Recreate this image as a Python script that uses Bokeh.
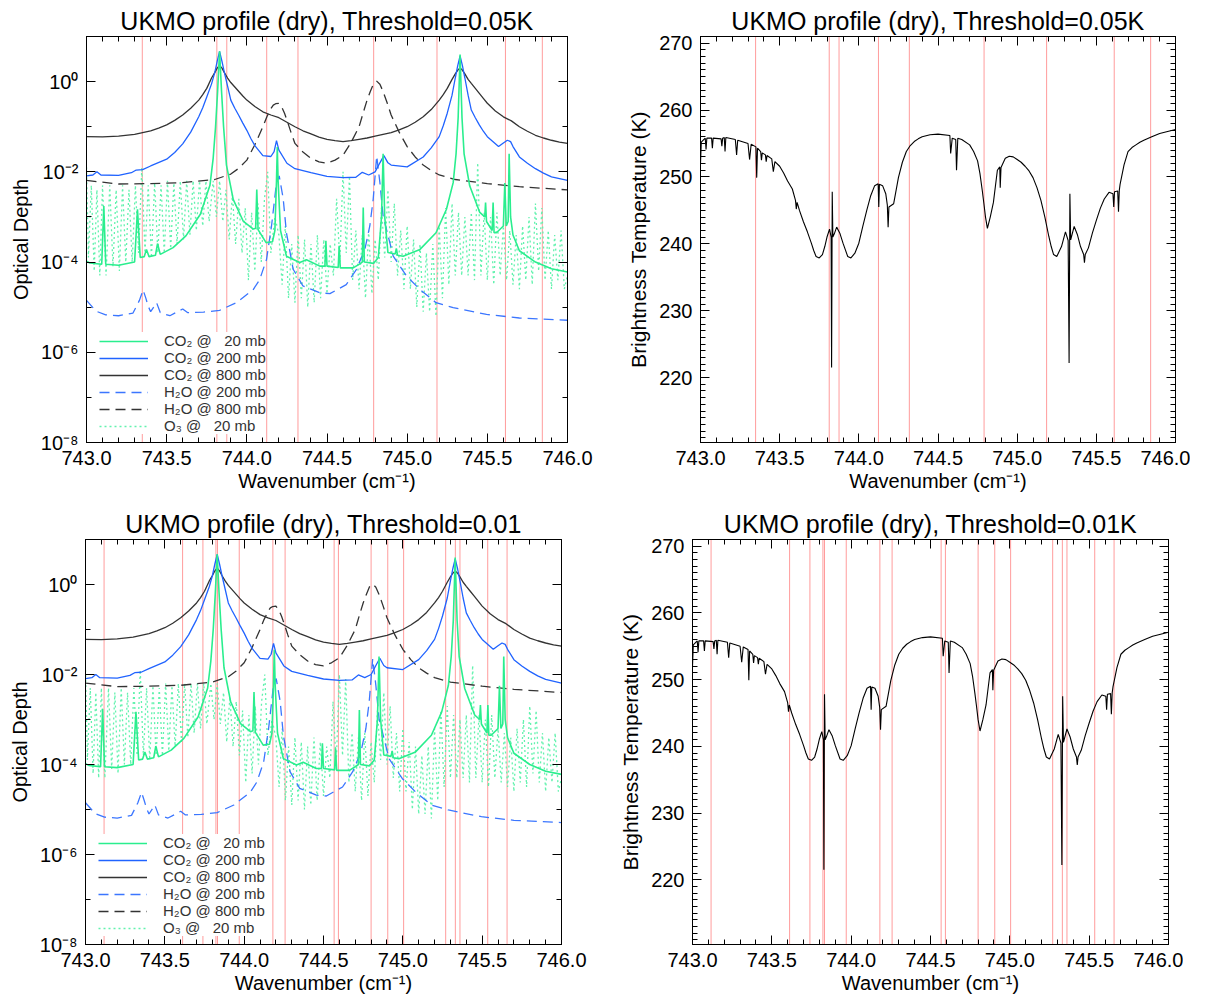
import numpy as np
from bokeh.plotting import figure
from bokeh.models import (Range1d, Span, Legend, LegendItem, FixedTicker, CustomJSTickFormatter,
                          SingleIntervalTicker, LinearAxis, LogAxis, NumeralTickFormatter)
from bokeh.layouts import column, row
from bokeh.embed import file_html
from bokeh.resources import INLINE

FONT = "Liberation Sans"
RED = "#ff9c9c"

# ---------------- data (optical depths given as log10) ----------------
co2_800_x = [743.00, 743.10, 743.20, 743.30, 743.35, 743.40, 743.45, 743.50, 743.55, 743.60,
             743.65, 743.70, 743.725, 743.75, 743.78, 743.80, 743.815, 743.83, 743.845, 743.86,
             743.88, 743.90, 743.925, 743.95, 743.975, 744.00, 744.05, 744.10, 744.15, 744.20,
             744.25, 744.30, 744.35, 744.40, 744.45, 744.50, 744.55, 744.60, 744.65, 744.70,
             744.75, 744.80, 744.85, 744.90, 744.95, 745.00, 745.05, 745.10, 745.15, 745.20,
             745.225, 745.25, 745.28, 745.30, 745.315, 745.33, 745.345, 745.36, 745.38, 745.40,
             745.425, 745.45, 745.475, 745.50, 745.55, 745.60, 745.65, 745.70, 745.75, 745.80,
             745.85, 745.90, 745.95, 746.00]
co2_800_log = [-1.22, -1.225, -1.21, -1.17, -1.13, -1.09, -1.03, -0.96, -0.86, -0.74,
               -0.59, -0.41, -0.29, -0.15, 0.08, 0.20, 0.30, 0.36, 0.30, 0.20,
               0.08, -0.02, -0.12, -0.22, -0.32, -0.41, -0.55, -0.67, -0.74, -0.80,
               -0.90, -1.00, -1.09, -1.16, -1.23, -1.28, -1.31, -1.33, -1.31, -1.28,
               -1.25, -1.21, -1.17, -1.13, -1.07, -1.00, -0.90, -0.78, -0.62, -0.41,
               -0.29, -0.15, 0.05, 0.17, 0.25, 0.30, 0.25, 0.17, 0.05, -0.04,
               -0.15, -0.26, -0.37, -0.48, -0.65, -0.78, -0.87, -1.00, -1.10, -1.19,
               -1.25, -1.30, -1.34, -1.37]

co2_200_x = [743.00, 743.04, 743.065, 743.09, 743.20, 743.28, 743.31, 743.35, 743.40, 743.50,
             743.55, 743.60, 743.65, 743.70, 743.725, 743.75, 743.78, 743.80, 743.815, 743.83,
             743.845, 743.86, 743.88, 743.90, 743.925, 743.95, 743.975, 744.00, 744.025, 744.05,
             744.10, 744.15, 744.17, 744.185, 744.20, 744.25, 744.30, 744.40, 744.50, 744.60,
             744.68, 744.72, 744.76, 744.80, 744.83, 744.855, 744.88, 744.90, 745.00, 745.10,
             745.15, 745.20, 745.225, 745.25, 745.28, 745.30, 745.315, 745.33, 745.345, 745.36,
             745.38, 745.40, 745.425, 745.45, 745.475, 745.50, 745.57, 745.60, 745.625, 745.645,
             745.66, 745.70, 745.75, 745.80, 745.85, 745.90, 746.00]
co2_200_log = [-2.09, -2.07, -2.00, -2.07, -2.08, -2.02, -1.96, -1.95, -1.87, -1.72,
               -1.57, -1.38, -1.12, -0.78, -0.58, -0.34, -0.05, 0.20, 0.45, 0.67,
               0.45, 0.20, -0.10, -0.41, -0.59, -0.75, -0.92, -1.08, -1.26, -1.42,
               -1.64, -1.66, -1.55, -1.31, -1.52, -1.81, -1.93, -2.02, -2.10, -2.13,
               -2.12, -2.01, -2.07, -2.00, -1.80, -1.64, -1.80, -1.85, -1.89, -1.67,
               -1.47, -1.22, -0.98, -0.70, -0.30, 0.08, 0.35, 0.57, 0.35, 0.08,
               -0.30, -0.63, -0.80, -0.96, -1.10, -1.22, -1.44, -1.36, -1.30, -1.33,
               -1.44, -1.67, -1.81, -1.93, -2.03, -2.11, -2.19]

co2_20_x = [743.000, 743.020, 743.095, 743.108, 743.120, 743.200, 743.300, 743.318, 743.335, 743.360,
            743.374, 743.390, 743.430, 743.443, 743.460, 743.540, 743.620, 743.680, 743.710, 743.770,
            743.790, 743.805, 743.818, 743.830, 743.842, 743.855, 743.873, 743.915, 743.977, 744.040,
            744.055, 744.062, 744.070, 744.120, 744.160, 744.175, 744.185, 744.190, 744.195, 744.210,
            744.247, 744.330, 744.372, 744.455, 744.487, 744.493, 744.500, 744.570, 744.576, 744.583,
            744.663, 744.700, 744.720, 744.726, 744.733, 744.790, 744.820, 744.840, 744.850, 744.860,
            744.880, 744.925, 744.933, 744.940, 744.975, 745.080, 745.180, 745.245, 745.287, 745.305,
            745.318, 745.330, 745.342, 745.355, 745.390, 745.453, 745.484, 745.489, 745.495, 745.530,
            745.536, 745.542, 745.557, 745.600, 745.609, 745.618, 745.630, 745.636, 745.645, 745.660,
            745.700, 745.800, 745.900, 746.000]
co2_20_log = [-3.98, -4.02, -4.05, -2.76, -4.05, -4.07, -4.00, -2.83, -3.90, -3.88,
              -3.72, -3.88, -3.85, -3.59, -3.83, -3.68, -3.42, -3.10, -2.94, -2.30,
              -1.70, -1.00, -0.20, 0.67, -0.20, -1.00, -1.85, -2.61, -3.09, -3.27,
              -3.25, -2.39, -3.28, -3.57, -3.55, -3.30, -2.20, -1.45, -2.20, -3.30,
              -3.87, -4.01, -3.95, -4.09, -4.09, -3.53, -4.09, -4.12, -3.64, -4.13,
              -4.13, -4.05, -4.00, -2.79, -4.00, -4.03, -3.90, -3.00, -1.60, -3.00,
              -3.79, -3.82, -3.70, -3.85, -3.87, -3.72, -3.35, -2.83, -2.24, -1.60,
              -0.80, 0.60, -0.80, -1.60, -2.31, -2.90, -3.00, -2.68, -3.10, -3.30,
              -2.68, -3.35, -3.35, -3.20, -2.25, -3.20, -3.10, -1.60, -3.00, -3.40,
              -3.75, -4.00, -4.15, -4.22]

h2o_200_x = [743.00, 743.06, 743.12, 743.20, 743.29, 743.33, 743.353, 743.37, 743.385, 743.40,
             743.437, 743.46, 743.52, 743.60, 743.63, 743.73, 743.83, 743.935, 744.04, 744.08,
             744.123, 744.154, 744.185, 744.202, 744.227, 744.247, 744.289, 744.35, 744.455, 744.518,
             744.62, 744.684, 744.736, 744.767, 744.788, 744.81, 744.83, 744.85, 744.913, 744.996,
             745.08, 745.18, 745.287, 745.495, 745.70, 746.00]
h2o_200_log = [-4.85, -5.09, -5.17, -5.19, -5.13, -4.85, -4.62, -4.80, -4.98, -5.10,
               -4.90, -5.12, -5.19, -5.04, -5.12, -5.11, -5.07, -4.90, -4.61, -4.39,
               -3.94, -3.20, -2.24, -2.09, -2.60, -3.35, -4.16, -4.53, -4.68, -4.70,
               -4.50, -4.16, -3.72, -3.20, -2.61, -1.65, -2.24, -2.98, -3.87, -4.31,
               -4.61, -4.90, -5.01, -5.16, -5.24, -5.29]

h2o_800_x = [743.00, 743.20, 743.40, 743.60, 743.80, 743.90, 743.95, 744.00, 744.05, 744.10,
             744.125, 744.15, 744.165, 744.18, 744.20, 744.22, 744.235, 744.25, 744.275, 744.30,
             744.35, 744.40, 744.45, 744.50, 744.55, 744.60, 744.65, 744.70, 744.725, 744.75,
             744.77, 744.79, 744.81, 744.83, 744.85, 744.875, 744.90, 744.95, 745.00, 745.05,
             745.10, 745.15, 745.20, 745.30, 745.50, 745.70, 746.00]
h2o_800_log = [-2.19, -2.27, -2.26, -2.24, -2.17, -2.05, -1.92, -1.74, -1.40, -1.00,
               -0.78, -0.60, -0.52, -0.49, -0.48, -0.58, -0.70, -0.85, -1.12, -1.37,
               -1.56, -1.70, -1.78, -1.81, -1.74, -1.63, -1.35, -1.00, -0.70, -0.41,
               -0.22, -0.05, 0.01, -0.06, -0.22, -0.47, -0.74, -1.12, -1.44, -1.67,
               -1.85, -1.97, -2.07, -2.17, -2.26, -2.33, -2.40]

o3_x = [743.000, 743.012, 743.030, 743.048, 743.065, 743.083, 743.100, 743.122, 743.145, 743.165,
        743.185, 743.205, 743.225, 743.245, 743.265, 743.285, 743.305, 743.325, 743.345, 743.365,
        743.385, 743.405, 743.425, 743.445, 743.465, 743.485, 743.505, 743.525, 743.545, 743.565,
        743.585, 743.605, 743.625, 743.645, 743.665, 743.685, 743.705, 743.725, 743.745, 743.765,
        743.790, 743.810, 743.830, 743.850, 743.870, 743.890, 743.910, 743.930, 743.950, 743.970,
        743.990, 744.010, 744.030, 744.050, 744.070, 744.090, 744.110, 744.130, 744.150, 744.175,
        744.200, 744.220, 744.240, 744.260, 744.280, 744.300, 744.320, 744.340, 744.360, 744.380,
        744.400, 744.420, 744.440, 744.460, 744.480, 744.500, 744.520, 744.540, 744.560, 744.580,
        744.600, 744.620, 744.640, 744.660, 744.680, 744.700, 744.720, 744.740, 744.760, 744.780,
        744.800, 744.820, 744.840, 744.860, 744.880, 744.900, 744.920, 744.940, 744.960, 744.980,
        745.000, 745.020, 745.040, 745.060, 745.080, 745.100, 745.120, 745.140, 745.160, 745.180,
        745.200, 745.220, 745.240, 745.260, 745.280, 745.300, 745.320, 745.340, 745.360, 745.380,
        745.400, 745.420, 745.440, 745.460, 745.480, 745.500, 745.520, 745.540, 745.560, 745.580,
        745.600, 745.620, 745.640, 745.660, 745.680, 745.700, 745.720, 745.740, 745.760, 745.780,
        745.800, 745.820, 745.840, 745.860, 745.880, 745.900, 745.920, 745.940, 745.960, 745.980,
        746.000]
o3_log = [-1.9, -3.9, -2.3, -4.2, -2.4, -4.3, -2.3, -4.3, -2.3, -4.1,
          -2.4, -4.2, -2.3, -4.0, -2.4, -4.0, -2.3, -3.8, -1.9, -3.8,
          -2.3, -3.9, -2.25, -3.8, -2.3, -3.8, -2.2, -3.7, -2.25, -3.6,
          -2.2, -3.5, -2.2, -3.4, -2.2, -3.3, -2.2, -3.2, -2.2, -3.1,
          -2.2, -3.0, -2.2, -3.1, -2.4, -3.5, -2.5, -3.6, -2.6, -3.8,
          -2.8, -4.4, -2.9, -4.2, -2.7, -4.0, -2.6, -2.0, -3.8, -3.0,
          -3.4, -4.5, -3.2, -4.8, -3.6, -4.9, -3.4, -4.8, -3.5, -5.0,
          -3.6, -4.9, -3.4, -4.8, -3.5, -4.7, -3.6, -4.3, -2.6, -4.0,
          -2.0, -3.8, -2.1, -4.4, -3.3, -4.6, -3.4, -4.8, -3.3, -4.7,
          -3.5, -4.4, -2.8, -3.9, -2.4, -4.0, -2.7, -4.3, -3.3, -4.6,
          -3.2, -4.6, -3.5, -5.0, -3.6, -5.1, -3.8, -5.1, -3.6, -5.2,
          -3.2, -4.8, -2.8, -4.5, -2.7, -4.3, -2.9, -4.3, -3.0, -4.3,
          -2.9, -4.4, -1.8, -4.3, -2.9, -4.4, -3.0, -4.5, -2.9, -4.3,
          -3.2, -4.4, -3.3, -4.5, -3.4, -4.6, -3.2, -4.4, -3.0, -4.5,
          -2.7, -4.2, -2.8, -4.4, -3.3, -4.6, -3.4, -4.4, -3.3, -4.6,
          -4.3]

bt_x = [743.000, 743.005, 743.030, 743.035, 743.040, 743.070, 743.075, 743.080, 743.130, 743.135,
        743.140, 743.150, 743.155, 743.160, 743.220, 743.228, 743.235, 743.300, 743.310, 743.320,
        743.350, 743.355, 743.360, 743.380, 743.385, 743.390, 743.410, 743.415, 743.420, 743.450,
        743.460, 743.470, 743.500, 743.525, 743.550, 743.580, 743.600, 743.605, 743.610, 743.625,
        743.650, 743.675, 743.700, 743.715, 743.730, 743.750, 743.770, 743.785, 743.800, 743.815,
        743.825, 743.828, 743.832, 743.836, 743.845, 743.860, 743.880, 743.900, 743.930, 743.950,
        743.975, 744.000, 744.025, 744.050, 744.075, 744.100, 744.122, 744.126, 744.130, 744.150,
        744.170, 744.180, 744.185, 744.190, 744.220, 744.250, 744.275, 744.300, 744.325, 744.350,
        744.375, 744.400, 744.450, 744.500, 744.575, 744.580, 744.590, 744.612, 744.617, 744.625,
        744.650, 744.700, 744.725, 744.750, 744.765, 744.780, 744.790, 744.800, 744.812, 744.830,
        744.850, 744.875, 744.890, 744.893, 744.898, 744.925, 744.950, 744.975, 745.000, 745.025,
        745.050, 745.075, 745.100, 745.125, 745.150, 745.175, 745.200, 745.215, 745.230, 745.250,
        745.280, 745.305, 745.322, 745.328, 745.333, 745.338, 745.360, 745.380, 745.400, 745.420,
        745.425, 745.430, 745.450, 745.475, 745.500, 745.525, 745.550, 745.580, 745.605, 745.610,
        745.615, 745.635, 745.640, 745.645, 745.650, 745.675, 745.700, 745.725, 745.750, 745.775,
        745.800, 745.850, 745.900, 745.950, 746.000]
bt_k = [252.0, 255.2, 255.8, 254.1, 255.8, 255.8, 254.3, 255.8, 255.7, 254.6,
        255.8, 255.9, 253.8, 255.9, 255.6, 253.3, 255.5, 255.0, 252.6, 254.9,
        254.5, 249.9, 254.3, 253.8, 252.5, 253.6, 253.3, 252.3, 253.2, 252.7,
        250.8, 252.3, 251.6, 250.6, 249.4, 248.2, 246.5, 245.2, 246.2, 245.0,
        243.3, 241.8, 240.1, 239.0, 238.1, 237.9, 238.4, 239.6, 241.1, 242.2,
        241.0, 221.5, 247.8, 241.0, 241.5, 242.5, 241.6, 240.1, 238.1, 237.9,
        238.6, 240.1, 242.6, 245.0, 247.2, 248.7, 249.0, 245.5, 248.9, 248.7,
        247.5, 245.8, 242.5, 245.5, 246.0, 249.9, 252.2, 253.8, 254.7, 255.3,
        255.7, 256.0, 256.3, 256.4, 256.2, 253.5, 255.8, 255.6, 251.0, 255.8,
        255.6, 254.8, 253.8, 252.4, 250.5, 247.9, 246.0, 244.0, 242.3, 244.0,
        246.2, 251.0, 251.5, 248.4, 251.4, 252.8, 253.1, 253.0, 252.6, 252.2,
        251.6, 250.9, 249.9, 248.4, 246.5, 244.0, 241.1, 239.6, 238.4, 238.1,
        239.6, 241.8, 240.5, 222.2, 247.5, 240.6, 242.6, 241.4, 239.6, 238.4,
        237.2, 238.4, 239.4, 241.6, 243.5, 245.3, 246.7, 247.7, 247.5, 245.5,
        247.8, 247.9, 244.8, 248.0, 248.9, 251.8, 253.8, 254.4, 254.8, 255.2,
        255.5, 256.0, 256.5, 256.8, 257.1]

# channel positions selected at each threshold (red lines)
sel_005 = [743.348, 743.813, 743.875, 744.124, 744.319, 744.791, 745.186, 745.613, 745.843]
sel_001 = [743.117, 743.612, 743.740, 743.822, 743.832, 743.969, 744.181, 744.258, 744.567,
           744.594, 744.800, 744.905, 745.005, 745.270, 745.331, 745.360, 745.535, 745.657]

legend_labels = ["CO\u2082 @ \u200720 mb", "CO\u2082 @ 200 mb", "CO\u2082 @ 800 mb",
                 "H\u2082O @ 200 mb", "H\u2082O @ 800 mb", "O\u2083 @ \u200720 mb"]

od_tick_labels = {1e-8: "10\u207b\u2078", 1e-6: "10\u207b\u2076", 1e-4: "10\u207b\u2074",
                  1e-2: "10\u207b\u00b2", 1.0: "10\u2070"}

titles = ["UKMO profile (dry), Threshold=0.05K", "UKMO profile (dry), Threshold=0.05K",
          "UKMO profile (dry), Threshold=0.01", "UKMO profile (dry), Threshold=0.01K"]


def style_axis(ax, show):
    ax.axis_line_color = "black"
    ax.axis_line_width = 1
    ax.major_tick_in = 9
    ax.major_tick_out = 0
    ax.minor_tick_in = 5
    ax.minor_tick_out = 0
    ax.major_tick_line_color = "black"
    ax.minor_tick_line_color = "black"
    ax.major_label_text_font = FONT
    ax.major_label_text_color = "black"
    ax.major_label_text_font_size = "20px"
    if show:
        ax.major_label_standoff = 8
    else:
        ax.formatter = CustomJSTickFormatter(code="return ''")
        ax.major_label_standoff = 0
    ax.axis_label_text_font = FONT
    ax.axis_label_text_font_size = "20px"
    ax.axis_label_text_font_style = "normal"
    ax.axis_label_text_color = "black"
    ax.axis_label_standoff = 6


def x_ticker():
    return SingleIntervalTicker(interval=0.5, num_minor_ticks=5)


def od_ticker():
    return FixedTicker(ticks=[1e-8, 1e-6, 1e-4, 1e-2, 1.0],
                       minor_ticks=[1e-7, 1e-5, 1e-3, 1e-1, 10.0])


def bt_ticker():
    return SingleIntervalTicker(interval=10, num_minor_ticks=10)


def make_fig(title, log, fw, fh, mbl, mbr, mbt, mbb):
    common = dict(x_range=Range1d(743.0, 746.0), frame_width=fw, frame_height=fh,
                  min_border_left=mbl, min_border_right=mbr, min_border_top=mbt,
                  min_border_bottom=mbb, output_backend="svg", toolbar_location=None,
                  title=title)
    if log:
        p = figure(y_range=Range1d(1e-8, 10.0), y_axis_type="log", **common)
    else:
        p = figure(y_range=Range1d(210.3, 271.0), **common)
    p.grid.visible = False
    p.outline_line_color = "black"
    p.background_fill_color = "white"
    p.border_fill_color = "white"
    p.title.text_font = FONT
    p.title.text_font_size = "25px"
    p.title.text_font_style = "normal"
    p.title.text_color = "black"
    p.title.align = "center"
    p.title.standoff = 3

    xa = p.below[0]
    xa.ticker = x_ticker()
    xa.formatter = NumeralTickFormatter(format="0.0")
    xa.axis_label = "Wavenumber (cm\u207b\u00b9)"
    style_axis(xa, True)
    xa.axis_label_standoff = 2

    ya = p.left[0]
    style_axis(ya, True)
    top = LinearAxis(ticker=x_ticker())
    style_axis(top, False)
    p.add_layout(top, "above")
    if log:
        ya.ticker = od_ticker()
        ya.major_label_overrides = od_tick_labels
        ya.axis_label = "Optical Depth"
        right = LogAxis(ticker=od_ticker())
    else:
        ya.ticker = bt_ticker()
        ya.axis_label = "Brightness Temperature (K)"
        ya.axis_label_text_font_size = "21px"
        right = LinearAxis(ticker=bt_ticker())
    style_axis(right, False)
    p.add_layout(right, "right")
    return p


def add_red(p, sel):
    for xv in sel:
        p.add_layout(Span(location=xv, dimension="height", line_color=RED,
                          line_width=1, level="underlay"))


def od_panel(title, sel, fw, fh, mbl, mbr, mbt, mbb):
    p = make_fig(title, True, fw, fh, mbl, mbr, mbt, mbb)
    add_red(p, sel)
    ro3 = p.line(o3_x, 10.0 ** np.array(o3_log), line_color="#62f2ae", line_width=1.3,
                 line_dash="2 3")
    rh800 = p.line(h2o_800_x, 10.0 ** np.array(h2o_800_log), line_color="#333333",
                   line_width=1.3, line_dash="10 6")
    rh200 = p.line(h2o_200_x, 10.0 ** np.array(h2o_200_log), line_color="#3b76ff",
                   line_width=1.3, line_dash="10 6")
    r800 = p.line(co2_800_x, 10.0 ** np.array(co2_800_log), line_color="#333333",
                  line_width=1.3)
    r200 = p.line(co2_200_x, 10.0 ** np.array(co2_200_log), line_color="#2063ff",
                  line_width=1.3)
    r20 = p.line(co2_20_x, 10.0 ** np.array(co2_20_log), line_color="#2aee8e",
                 line_width=1.6)
    rends = [r20, r200, r800, rh200, rh800, ro3]
    leg = Legend(items=[LegendItem(label=l, renderers=[r]) for l, r in zip(legend_labels, rends)],
                 location=(13, 8))
    leg.background_fill_color = "white"
    leg.background_fill_alpha = 1.0
    leg.border_line_color = None
    leg.label_text_font = FONT
    leg.label_text_font_size = "15px"
    leg.label_text_line_height = 0.9
    leg.label_text_color = "#333333"
    leg.glyph_width = 49
    leg.glyph_height = 14
    leg.label_height = 14
    leg.label_standoff = 16
    leg.spacing = 0
    leg.padding = 3
    leg.margin = 0
    p.add_layout(leg)
    return p


def bt_panel(title, sel, fw, fh, mbl, mbr, mbt, mbb):
    p = make_fig(title, False, fw, fh, mbl, mbr, mbt, mbb)
    add_red(p, sel)
    p.line(bt_x, bt_k, line_color="black", line_width=1.1)
    return p


p1 = od_panel(titles[0], sel_005, 481, 406, 86, 43, 36, 54)
p2 = bt_panel(titles[1], sel_005, 475, 406, 90, 15, 36, 54)
p3 = od_panel(titles[2], sel_001, 476, 405, 85, 49, 43, 44)
p4 = bt_panel(titles[3], sel_001, 476, 405, 82, 15, 43, 44)

layout = column(row(p1, p2), row(p3, p4))
open("out.html", "w").write(file_html(layout, INLINE))
